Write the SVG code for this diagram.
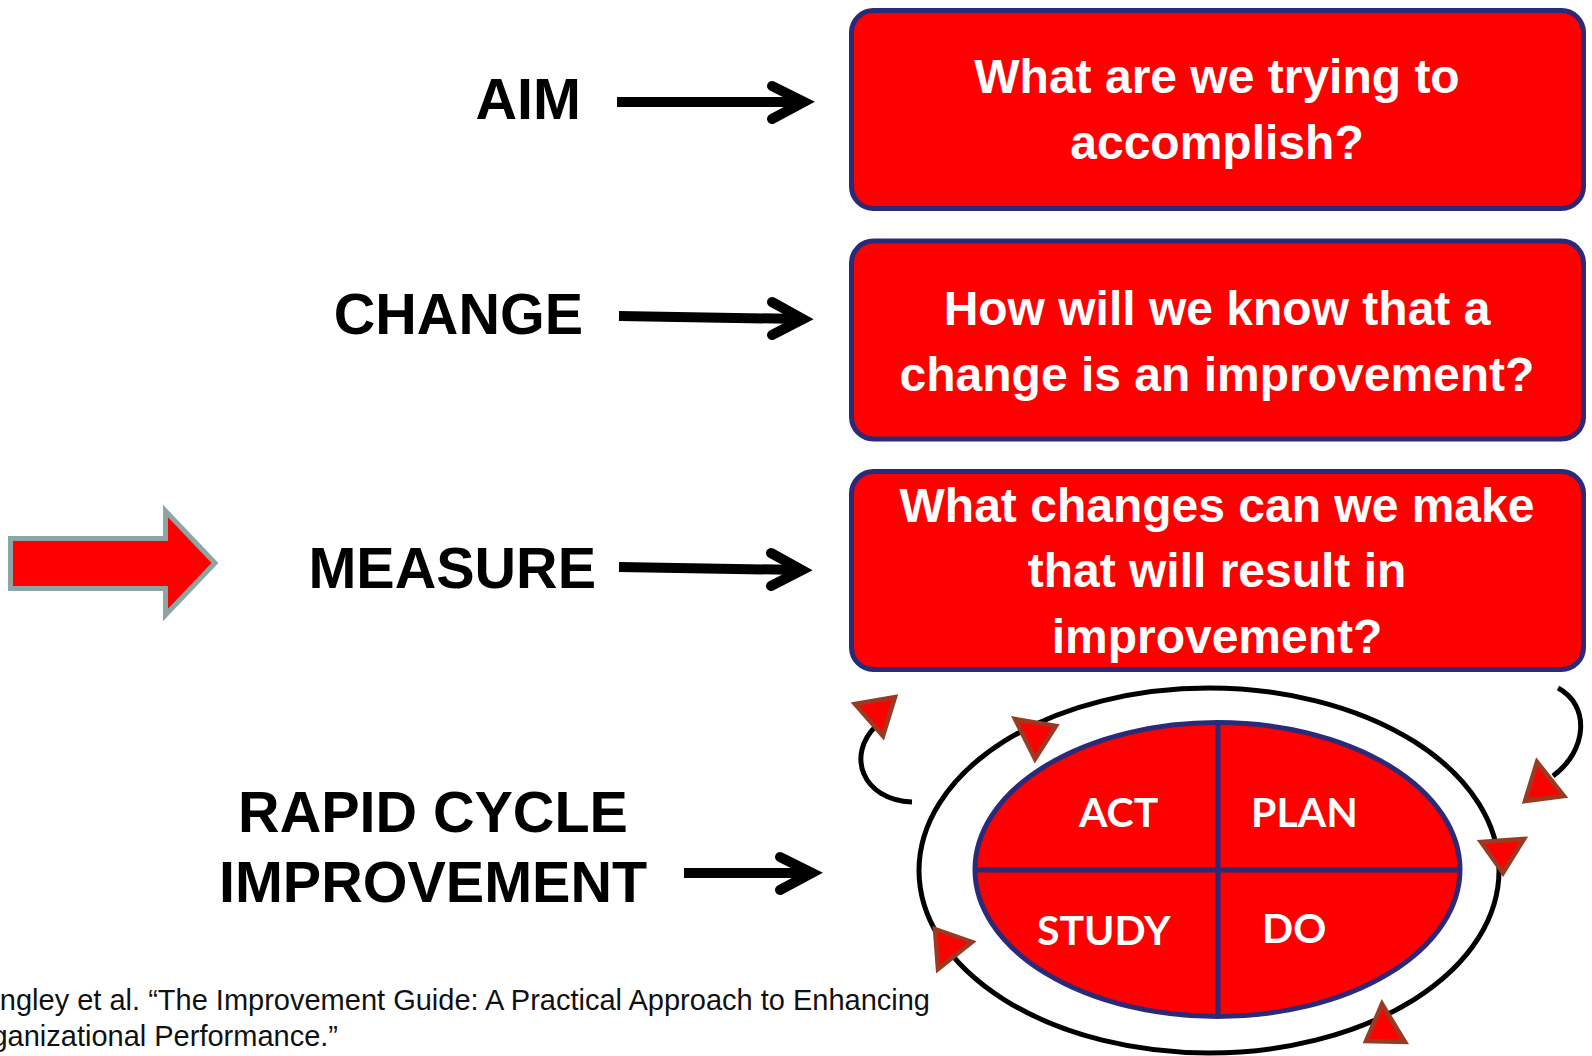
<svg xmlns="http://www.w3.org/2000/svg" width="1592" height="1056" viewBox="0 0 1592 1056">
  <style>
    .label { font-family: "Liberation Sans", Arial, sans-serif; font-weight: bold; font-size: 57.5px; fill: #000; }
    .q { font-family: "Liberation Sans", Arial, sans-serif; font-weight: bold; font-size: 48px; fill: #fff; text-anchor: middle; }
    .qbox { fill: #ff0000; stroke: #2a2a78; stroke-width: 5; }
    .shaft { stroke: #000; stroke-width: 10; fill: none; }
    .head { stroke: #000; stroke-width: 10; fill: none; stroke-linecap: round; stroke-linejoin: miter; }
    .ring { fill: none; stroke: #000; stroke-width: 5; }
    .tri { fill: #ff0000; stroke: #9a3a22; stroke-width: 4.5; stroke-linejoin: miter; }
    .pdsa { font-family: Lato, "Open Sans", sans-serif; font-weight: bold; font-size: 41px; fill: #fff; }
    .note { font-family: "Liberation Sans", Arial, sans-serif; font-size: 29px; fill: #111; text-anchor: end; }
  </style>

  <!-- pointer arrow on the left -->
  <g id="pointer">
    <path d="M 10.5 538.5 H 165.5 V 511 L 215 563 L 165.5 615 V 588.5 H 10.5 Z" fill="#ff0000" stroke="#8ca5a5" stroke-width="5"/>
  </g>

  <!-- row labels -->
  <g id="label-aim"><text class="label" x="581" y="119" text-anchor="end">AIM</text></g>
  <g id="label-change"><text class="label" x="583" y="334" text-anchor="end">CHANGE</text></g>
  <g id="label-measure"><text class="label" x="596" y="588" text-anchor="end">MEASURE</text></g>
  <g id="label-rapid">
    <text class="label" x="433" y="832" text-anchor="middle">RAPID CYCLE</text>
    <text class="label" x="433" y="902" text-anchor="middle">IMPROVEMENT</text>
  </g>

  <!-- question boxes -->
  <g id="box-aim">
    <rect class="qbox" x="851.5" y="10.5" width="732" height="198" rx="22"/>
    <text class="q" x="1217" y="93">What are we trying to</text>
    <text class="q" x="1217" y="159">accomplish?</text>
  </g>
  <g id="box-change">
    <rect class="qbox" x="851.5" y="241" width="732" height="198" rx="22"/>
    <text class="q" x="1217" y="325">How will we know that a</text>
    <text class="q" x="1217" y="391">change is an improvement?</text>
  </g>
  <g id="box-measure">
    <rect class="qbox" x="851.5" y="471.5" width="732" height="198" rx="22"/>
    <text class="q" x="1217" y="522">What changes can we make</text>
    <text class="q" x="1217" y="587">that will result in</text>
    <text class="q" x="1217" y="653">improvement?</text>
  </g>

  <!-- PDSA cycle -->
  <g id="pdsa-cycle">
    <ellipse class="ring" cx="1209" cy="870.5" rx="290" ry="182.5"/>
    <ellipse cx="1217.5" cy="869.5" rx="242.5" ry="147" fill="#ff0000" stroke="#2a2a78" stroke-width="5"/>
    <line x1="1218" y1="722" x2="1218" y2="1017" stroke="#2a2a78" stroke-width="5"/>
    <line x1="975" y1="870" x2="1460" y2="870" stroke="#2a2a78" stroke-width="5"/>
    <text class="pdsa" x="1079" y="827">ACT</text>
    <text class="pdsa" x="1251" y="827">PLAN</text>
    <text class="pdsa" x="1037" y="945">STUDY</text>
    <text class="pdsa" x="1262" y="943">DO</text>
  </g>

  <!-- connectors -->
  <g id="connectors">
    <line class="shaft" x1="617" y1="102" x2="800" y2="102"/>
    <polyline class="head" points="772,86 804,102 772,119"/>
    <line class="shaft" x1="619" y1="316" x2="800" y2="319"/>
    <polyline class="head" points="772,302 803,319 772,335"/>
    <line class="shaft" x1="619" y1="567" x2="800" y2="570"/>
    <polyline class="head" points="771,553 802,570 771,586"/>
    <line class="shaft" x1="684" y1="873" x2="810" y2="873"/>
    <polyline class="head" points="780,857 812,873 780,890"/>
    <path class="ring" d="M 912 802 C 862 800 846 755 876 726"/>
    <path class="ring" d="M 1558 688 C 1590 705 1588 750 1553 776"/>
    <polygon class="tri" points="855,704 895,697 883,736"/>
    <polygon class="tri" points="1015,719 1056,726 1035,759"/>
    <polygon class="tri" points="1537,762 1564,796 1525,801"/>
    <polygon class="tri" points="1481,842 1524,839 1503,873"/>
    <polygon class="tri" points="935,929 972,942 938,969"/>
    <polygon class="tri" points="1382,1004 1405,1042 1366,1041"/>
  </g>

  <!-- source note -->
  <g id="source-note">
    <text class="note" x="930" y="1010">ngley et al. “The Improvement Guide: A Practical Approach to Enhancing</text>
    <text class="note" x="338" y="1046">ganizational Performance.”</text>
  </g>
</svg>
